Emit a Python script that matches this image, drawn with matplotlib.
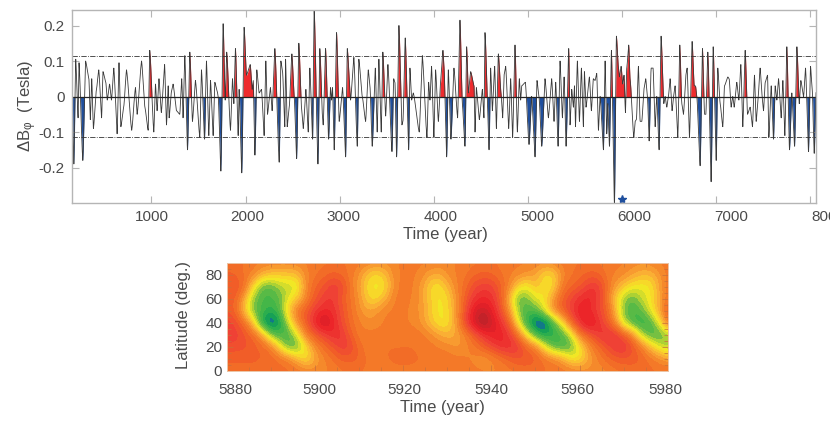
import numpy as np
import matplotlib
matplotlib.use("Agg")
import matplotlib.pyplot as plt
from matplotlib.colors import LinearSegmentedColormap, BoundaryNorm
from matplotlib.transforms import ScaledTranslation

plt.rcParams['font.family'] = ['Liberation Sans', 'DejaVu Sans']
plt.rcParams['mathtext.default'] = 'regular'

# Turning points of the field series
years = [150, 175, 195, 220, 230, 270, 300, 335, 350, 365, 383, 415, 440, 470, 485, 515, 530, 555, 575, 600,
         635, 655, 675, 705, 735, 790, 830, 848, 895, 930, 965, 982, 1025, 1043, 1060, 1080, 1105, 1140, 1160, 1178,
         1188, 1213, 1230, 1266, 1301, 1322, 1336, 1355, 1383, 1408, 1436, 1468, 1514, 1532, 1564, 1585, 1610, 1628, 1656, 1674,
         1699, 1710, 1738, 1762, 1784, 1800, 1840, 1862, 1876, 1893, 1922, 1932, 1960, 1985, 2010, 2050, 2071, 2082, 2100, 2120,
         2145, 2170, 2198, 2216, 2234, 2265, 2283, 2312, 2358, 2376, 2394, 2418, 2426, 2443, 2465, 2493, 2518, 2543, 2567, 2596,
         2614, 2642, 2667, 2684, 2713, 2730, 2770, 2790, 2819, 2826, 2851, 2883, 2904, 2915, 2925, 2943, 2968, 2996, 3032, 3064,
         3082, 3117, 3152, 3188, 3205, 3241, 3277, 3305, 3323, 3347, 3380, 3400, 3418, 3443, 3460, 3490, 3514, 3557, 3575, 3589,
         3606, 3631, 3663, 3674, 3698, 3734, 3748, 3766, 3784, 3847, 3880, 3929, 3947, 3961, 3978, 4003, 4021, 4050, 4074, 4099,
         4110, 4138, 4156, 4184, 4216, 4255, 4280, 4305, 4333, 4351, 4369, 4394, 4429, 4440, 4454, 4486, 4518, 4535, 4546, 4589,
         4606, 4624, 4649, 4667, 4688, 4716, 4734, 4748, 4766, 4798, 4819, 4840, 4865, 4890, 4911, 4925, 4936, 4975, 5014, 5042,
         5078, 5099, 5120, 5149, 5184, 5220, 5255, 5280, 5298, 5323, 5344, 5369, 5387, 5408, 5436, 5450, 5468, 5486, 5497, 5508,
         5528, 5550, 5571, 5592, 5603, 5620, 5656, 5677, 5698, 5716, 5734, 5752, 5770, 5805, 5823, 5840, 5851, 5869, 5890, 5922,
         5943, 5965, 5975, 5993, 6010, 6024, 6039, 6053, 6074, 6088, 6128, 6142, 6156, 6177, 6195, 6213, 6238, 6255, 6273, 6291,
         6312, 6333, 6355, 6372, 6397, 6418, 6447, 6461, 6479, 6496, 6514, 6535, 6550, 6567, 6596, 6617, 6638, 6656, 6684, 6695,
         6720, 6748, 6770, 6784, 6798, 6833, 6858, 6880, 6894, 6915, 6950, 6972, 7004, 7021, 7046, 7074, 7092, 7128, 7142, 7163,
         7180, 7195, 7223, 7245, 7266, 7287, 7312, 7337, 7365, 7390, 7411, 7429, 7443, 7471, 7493, 7507, 7525, 7550, 7564, 7589,
         7613, 7631, 7649, 7667, 7695, 7713, 7734, 7755, 7783, 7808, 7837, 7862, 7887, 7904, 7933, 7954, 7985, 8007, 8025, 8046,
         8067]
delta_b = [0.07, -0.19, 0.105, -0.06, 0.095, -0.18, 0.10, 0.05, -0.065, 0.05, -0.09, 0.02, 0.075, -0.06, 0.07, 0.04, -0.01, 0.035, -0.01, 0.08,
           -0.105, 0.095, -0.085, -0.03, 0.075, -0.095, 0.025, -0.05, 0.10, -0.03, -0.095, 0.13, -0.10, 0.035, -0.04, 0.05, -0.045, 0.09, -0.08, 0.03,
           -0.06, 0.015, 0.035, -0.04, -0.05, 0.05, -0.06, 0.115, -0.15, 0.125, -0.07, 0.045, -0.115, 0.075, -0.12, 0.10, -0.11, 0.045, -0.11, 0.04,
           0.015, 0.0, -0.21, 0.205, -0.01, 0.125, -0.095, 0.05, -0.02, 0.135, -0.11, 0.02, -0.215, 0.195, 0.06, 0.09, 0.02, 0.045, -0.165, 0.075,
           0.01, 0.02, -0.11, 0.10, -0.05, 0.025, -0.04, 0.135, -0.185, 0.10, 0.07, -0.085, 0.105, -0.085, -0.03, 0.12, 0.0, -0.175, 0.15, -0.035,
           -0.09, 0.02, -0.10, 0.08, -0.12, 0.245, -0.19, 0.135, -0.06, -0.08, 0.135, -0.12, 0.025, -0.01, 0.025, -0.15, 0.18, -0.07, 0.025, -0.17,
           0.135, -0.01, 0.11, -0.14, 0.105, 0.0, -0.07, 0.075, 0.03, -0.14, 0.08, -0.10, 0.105, -0.10, 0.125, -0.055, 0.09, -0.155, 0.05, 0.04,
           -0.17, 0.20, -0.08, -0.07, 0.165, -0.15, 0.08, -0.01, 0.01, -0.10, 0.115, -0.115, 0.04, -0.01, 0.085, -0.115, 0.075, -0.07, 0.04, 0.13,
           0.085, -0.17, 0.075, -0.12, 0.08, -0.06, 0.215, -0.02, -0.14, 0.14, 0.01, 0.07, 0.03, -0.10, 0.025, -0.065, 0.02, -0.06, 0.18, -0.15,
           0.08, -0.04, 0.085, -0.09, 0.12, 0.01, -0.06, 0.06, 0.085, -0.09, 0.05, -0.115, 0.145, -0.10, 0.05, -0.01, 0.03, 0.04, -0.135, 0.0,
           -0.17, 0.045, 0.0, -0.14, 0.05, -0.06, 0.05, -0.07, 0.04, -0.14, 0.10, -0.06, 0.055, -0.14, 0.135, -0.08, 0.02, -0.03, 0.03, -0.085,
           0.10, -0.07, 0.08, -0.085, 0.07, -0.03, 0.055, -0.04, 0.05, 0.045, 0.065, -0.095, 0.0, -0.15, 0.10, -0.105, -0.02, -0.14, 0.13, -0.305,
           0.17, 0.08, 0.055, 0.085, 0.035, 0.06, -0.045, 0.08, 0.145, 0.05, -0.115, -0.07, -0.065, 0.085, -0.07, -0.07, 0.025, 0.05, 0.0, -0.125,
           0.08, 0.08, -0.085, 0.0, -0.15, 0.17, -0.02, 0.0, -0.03, 0.0, 0.05, -0.04, 0.0, 0.03, -0.115, 0.145, -0.02, -0.05, 0.065, 0.08,
           -0.115, 0.155, 0.03, 0.03, 0.0, -0.195, 0.135, -0.05, -0.05, 0.125, -0.24, 0.14, -0.18, 0.08, -0.02, -0.085, 0.03, 0.055, 0.05, -0.03,
           0.0, -0.03, 0.04, -0.01, 0.09, -0.085, 0.13, -0.05, -0.03, -0.085, 0.06, -0.07, -0.03, 0.08, 0.0, -0.04, 0.04, 0.06, -0.115, 0.03,
           -0.12, 0.03, -0.01, 0.05, -0.06, 0.045, -0.11, 0.14, -0.15, 0.01, -0.14, 0.14, -0.02, 0.045, 0.0, 0.08, -0.155, 0.085, 0.02, -0.16,
           0.02]
threshold = 0.115
star_year = [6006]
star_value = [-0.288]
top_xticks = [1000, 2000, 3000, 4000, 5000, 6000, 7000, 8000]
top_yticks = [-0.2, -0.1, 0, 0.1, 0.2]
top_ylabels = ['-0.2', '-0.1', '0', '0.1', '0.2']

# Butterfly panel: rows are latitude, columns every 2 years from 5880
# 0 is the orange background, positive goes to red, negative to yellow/green/blue
map_years = np.arange(5880, 5981, 2)
map_lats = np.arange(0, 91, 10)
lat_90 = [.4, .4, .3, .1, 0, -.1, -.1, -.1, -.1, 0, .1, .2, .2, .3, .2, .1, 0, -.2, -.3, -.2, 0, 0, 0, 0, -.1, -.2, -.1, 0, .2, .2, .3, .2, .1,
          0, 0, -.1, -.2, 0, .1, .2, .3, .3, .2, .1, 0, 0, -.2, -.3, -.2, 0, .1]
lat_80 = [.8, .7, .2, -.1, -1.0, -1.4, -1.5, -1.5, -1.3, -.2, .2, .5, .8, .6, .1, -.5, -1.6, -2.0, -1.3, -.2, 0, 0, -.2, -.8, -1.0, -.4, 0, .2, .6, .8, .7, .3, 0,
          -.2, -.5, -.8, -1.9, -1.9, -.3, .2, .5, .8, .8, .2, -.1, -.3, -.8, -1.2, -1.2, -.6, .1]
lat_70 = [1.1, 1.2, .5, -2.0, -3.8, -3.9, -3.1, -2.9, -2.7, -.2, .7, 1.2, 1.9, 1.6, .2, -.8, -2.0, -2.4, -2.0, -.3, .1, 0, -.6, -1.8, -2.2, -1.2, -.2, .5, 1.4, 1.8, 1.7, .9, -.1,
          -1.8, -2.4, -1.3, -2.2, -2.0, .1, .7, 1.0, 1.8, 2.0, .6, -.7, -1.5, -2.2, -2.4, -2.3, -.9, .2]
lat_60 = [1.0, .8, -1.0, -3.4, -4.2, -4.2, -3.8, -2.4, -1.6, -.1, 1.0, 1.8, 2.0, 1.0, .3, -.5, -1.8, -2.0, -1.0, 0, .1, -.1, -.6, -1.6, -2.3, -1.9, -.5, .9, 2.0, 2.4, 2.2, 1.0, -1.2,
          -3.8, -3.6, -2.4, -2.2, -.6, .8, 1.5, 2.2, 2.6, 2.0, .5, -1.6, -3.2, -3.9, -2.8, -2.2, -1.0, .3]
lat_50 = [1.0, .6, -1.6, -3.6, -4.2, -4.8, -3.9, -1.4, .3, 1.0, 1.9, 2.4, 2.2, 1.3, .4, -.4, -.9, -.5, -.1, 0, 0, -.2, -.6, -1.5, -2.3, -2.0, -.6, 1.2, 3.0, 3.6, 2.8, 1.4, -.5,
          -3.2, -4.2, -4.0, -2.3, -.4, .9, 1.8, 2.8, 2.4, 1.7, .9, -1.0, -3.6, -4.2, -3.8, -2.4, -1.0, 1.0]
lat_40 = [1.8, 1.4, .4, -1.6, -5.2, -6.4, -5.2, -2.6, -.3, 1.0, 2.6, 3.8, 2.6, 1.4, .5, 0, -.4, -.3, 0, .1, 0, -.2, -.5, -1.4, -2.2, -2.2, -.6, 1.5, 3.2, 4.6, 3.4, 2.2, .9,
          -2.4, -4.6, -6.3, -6.3, -4.2, -2.2, .6, 2.2, 3.4, 2.4, 1.1, -.2, -3.0, -4.2, -4.8, -4.2, -2.4, .5]
lat_30 = [2.0, 1.8, 1.2, .6, -.8, -3.4, -4.4, -4.2, -2.4, .1, .9, 1.6, 2.3, 2.1, .9, 0, .1, .1, .1, .1, .2, .2, .1, -.2, -.8, -1.2, -1.0, -.1, .9, 1.9, 2.7, 2.7, 2.0,
          .4, -2.2, -4.2, -5.2, -4.7, -4.2, -2.8, .1, .9, 1.9, 2.4, 2.1, 1.0, -.2, -2.8, -4.2, -4.1, -3.4]
lat_20 = [1.3, 1.3, 1.2, 1.0, .6, .1, -2.0, -4.0, -3.9, -2.0, -.3, .5, 1.1, 1.9, 1.6, .5, 0, .1, .3, .3, .3, .3, .2, .1, -.1, -.2, -.6, -.4, .2, .8, 1.5, 2.2, 2.3,
          2.0, .7, 0, -2.2, -4.0, -4.3, -4.0, -2.2, -.5, .4, 1.2, 2.0, 2.2, 1.2, .1, -1.2, -2.6, -3.2]
lat_10 = [.8, .8, .8, .8, .7, .6, .4, 0, -1.2, -2.2, -1.0, -.2, .3, .8, .9, .7, .2, .1, .3, .4, .4, .4, .3, .3, .2, .2, .1, 0, -.3, -.6, -.3, .2, .8,
          1.1, 1.1, .9, .3, 0, -.7, -2.1, -2.2, -.9, -.1, .5, .9, 1.0, 1.0, .7, .2, -.2, -.7]
lat_0 = [.5, .5, .5, .5, .5, .4, .4, .4, .3, 0, -.2, -.2, 0, .2, .3, .3, .2, .1, .1, .2, .2, .2, .2, .2, .2, .2, .2, .2, .1, 0, -.1, -.1, .1,
         .3, .4, .4, .3, .2, .2, .1, -.1, -.3, -.4, -.2, .1, .3, .4, .5, .4, .3, .3]
map_values = np.array([lat_0, lat_10, lat_20, lat_30, lat_40, lat_50, lat_60, lat_70, lat_80, lat_90])
bottom_xticks = [5880, 5900, 5920, 5940, 5960, 5980]
bottom_yticks = [0, 20, 40, 60, 80]

W, H = 830, 424
text_color = '#4a4a4a'
frame_color = '#b5b5b5'
fig = plt.figure(figsize=(W / 100, H / 100), dpi=100)


def axes_px(left, top, right, bottom):
    return fig.add_axes([left / W, 1 - bottom / H, (right - left) / W, (bottom - top) / H])


def shift_labels(ax, shifts):
    # the printed labels do not sit exactly under their ticks in the source figure
    for lab, dx in zip(ax.get_xticklabels(), shifts):
        lab.set_transform(lab.get_transform() + ScaledTranslation(dx / 100, 0, fig.dpi_scale_trans))


# Top panel
ax = axes_px(71.5, 10, 816, 203)
for s in ax.spines.values():
    s.set_color(frame_color)
    s.set_linewidth(1.0)
ax.tick_params(direction='in', length=5, width=0.8, color=frame_color, top=True, right=True,
               labelcolor=text_color, labelsize=11, pad=5)

# round the line off a little between turning points
t = np.arange(years[0], years[-1] + 0.25, 0.25)
pos = np.interp(t, years, np.arange(len(years)))
k = np.minimum(pos.astype(int), len(years) - 2)
s = pos - k
s = 0.5 * s + 0.5 * (3 * s ** 2 - 2 * s ** 3)
b = np.array(delta_b)[k] + (np.array(delta_b)[k + 1] - np.array(delta_b)[k]) * s

edges = np.flatnonzero(np.diff(np.sign(b)) != 0) + 1
for seg_t, seg_b in zip(np.split(t, edges), np.split(b, edges)):
    if seg_b.max() > threshold:
        ax.fill_between(seg_t, 0, seg_b, color='#ee2b2e', linewidth=0)
    elif seg_b.min() < -threshold:
        ax.fill_between(seg_t, 0, seg_b, color='#1f4f9e', linewidth=0)
ax.plot(t, b, color='#3a3a3a', linewidth=0.6)
ax.axhline(0, color='#222222', linewidth=0.9)
ax.axhline(threshold, color='#333333', linewidth=0.6, linestyle='-.')
ax.axhline(-threshold, color='#333333', linewidth=0.6, linestyle='-.')
ax.plot(star_year, star_value, linestyle='none', marker='*', markersize=6, color='#1f4f9e', clip_on=False)
ax.set_xlim(150, 8065)
ax.set_ylim(-0.30, 0.2437)
ax.set_xticks(top_xticks)
ax.set_yticks(top_yticks)
ax.set_yticklabels(top_ylabels)
shift_labels(ax, [0, 1.7, 4.3, 7.3, 9.7, 12.7, 15.3, 18])
ax.set_xlabel('Time (year)', fontsize=12, color=text_color)
ax.xaxis.set_label_coords(0.5026, -0.125)
ax.set_ylabel(r'$\Delta$B$_{\varphi}$  (Tesla)', fontsize=12, color=text_color)
ax.yaxis.set_label_coords(-0.043, 0.505)

# Bottom panel
ax2 = axes_px(227, 262.7, 667.7, 371)
for s in ax2.spines.values():
    s.set_color('#ecc5a6')
    s.set_linewidth(0.7)
stops = [(-6.5, '#17398f'), (-5.9, '#1560ad'), (-5.4, '#0f9d58'), (-4.6, '#39b54a'), (-3.6, '#6cbd45'), (-3.0, '#bcd630'),
         (-2.2, '#f6e925'), (-1.0, '#fbb035'), (0.0, '#f5832a'), (1.0, '#f26326'), (2.0, '#ef4136'),
         (3.0, '#ec2027'), (4.0, '#c8232b'), (5.0, '#a81f24')]
cmap = LinearSegmentedColormap.from_list('butterfly', [((v + 6.5) / 11.5, c) for v, c in stops])
norm = BoundaryNorm(np.arange(-6.5, 5.01, 0.4), cmap.N)
ax2.imshow(map_values, origin='lower', aspect='auto', cmap=cmap, norm=norm,
           interpolation='bicubic', interpolation_stage='data',
           extent=(map_years[0] - 1, map_years[-1] + 1, map_lats[0] - 5, map_lats[-1] + 5))
ax2.set_xlim(5880, 5980)
ax2.set_ylim(0, 90)
ax2.set_xticks(bottom_xticks)
ax2.set_yticks(bottom_yticks)
ax2.set_xticks(np.arange(5880, 5981, 5), minor=True)
ax2.set_yticks(np.arange(0, 91, 5), minor=True)
ax2.tick_params(which='minor', direction='in', length=3, width=0.5, color='#c8703a', top=True, right=True)
ax2.tick_params(which='major', direction='in', length=4, width=0.5, color='#c8703a', top=True, right=True,
                labelcolor=text_color, labelsize=11)
ax2.tick_params(axis='x', which='major', pad=9)
shift_labels(ax2, [8, 4, 1, 0, -2, -2])
ax2.set_xlabel('Time (year)', fontsize=12, color=text_color)
ax2.xaxis.set_label_coords(0.488, -0.27)
ax2.set_ylabel('Latitude (deg.)', fontsize=12, color=text_color)
ax2.yaxis.set_label_coords(-0.082, 0.52)

fig.savefig('out.png', dpi=100)
